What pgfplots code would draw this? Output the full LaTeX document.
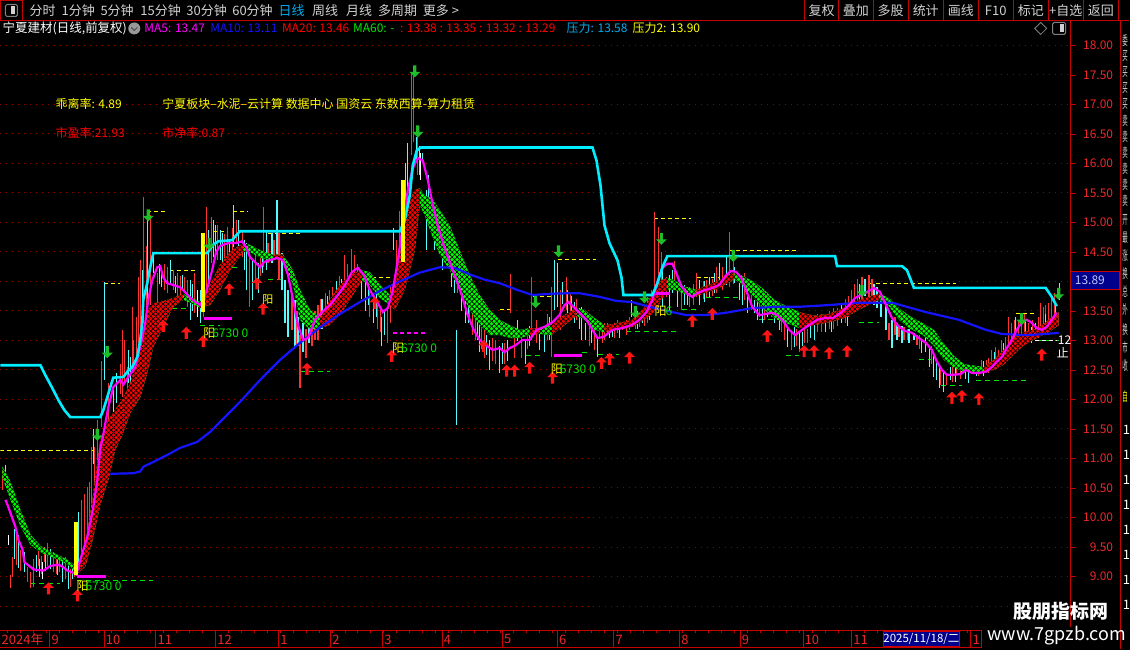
\documentclass[border=0pt]{standalone}
\usepackage{fontspec}
\setmainfont{Noto Sans CJK SC}
\usepackage{pgfplots}
\usepackage{pgfplotstable}
\pgfplotsset{compat=1.18}
\usepgfplotslibrary{fillbetween}
\usetikzlibrary{patterns,patterns.meta}
\tikzset{fill between/on layer=main}
\newcommand{\fs}[1]{\fontsize{#1pt}{#1pt}\selectfont}
\definecolor{cR}{RGB}{255,50,50}
\definecolor{cC}{RGB}{84,252,252}
\definecolor{mag}{RGB}{255,0,255}
\definecolor{bl}{RGB}{20,20,255}
\definecolor{rib}{RGB}{255,0,0}
\definecolor{ribg}{RGB}{0,255,0}
\definecolor{pc}{RGB}{0,238,255}
\definecolor{yl}{RGB}{255,255,0}
\definecolor{arR}{RGB}{255,20,20}
\definecolor{arG}{RGB}{30,190,40}
\definecolor{gridc}{RGB}{150,0,0}
\definecolor{axr}{RGB}{200,0,0}
\definecolor{lab}{RGB}{240,40,40}
\definecolor{menuc}{RGB}{210,210,210}
\definecolor{navy}{RGB}{0,0,140}
\definecolor{grn}{RGB}{0,230,0}
\pagecolor{black}

\pgfdeclareplotmark{uparr}{%
  \pgfpathmoveto{\pgfqpoint{0pt}{0pt}}%
  \pgfpathlineto{\pgfqpoint{5.5pt}{-5.5pt}}%
  \pgfpathlineto{\pgfqpoint{1.6pt}{-5.5pt}}%
  \pgfpathlineto{\pgfqpoint{1.6pt}{-12pt}}%
  \pgfpathlineto{\pgfqpoint{-1.6pt}{-12pt}}%
  \pgfpathlineto{\pgfqpoint{-1.6pt}{-5.5pt}}%
  \pgfpathlineto{\pgfqpoint{-5.5pt}{-5.5pt}}%
  \pgfpathclose\pgfusepathqfill}
\pgfdeclareplotmark{dnarr}{%
  \pgfpathmoveto{\pgfqpoint{0pt}{0pt}}%
  \pgfpathlineto{\pgfqpoint{5.5pt}{5.5pt}}%
  \pgfpathlineto{\pgfqpoint{1.6pt}{5.5pt}}%
  \pgfpathlineto{\pgfqpoint{1.6pt}{12pt}}%
  \pgfpathlineto{\pgfqpoint{-1.6pt}{12pt}}%
  \pgfpathlineto{\pgfqpoint{-1.6pt}{5.5pt}}%
  \pgfpathlineto{\pgfqpoint{-5.5pt}{5.5pt}}%
  \pgfpathclose\pgfusepathqfill}

\pgfplotstableread{
x l h
2 10.47 10.81
10 8.80 9.03
12 9.00 9.33
16 9.20 9.78
20 9.10 9.45
27 8.90 9.16
30 8.81 9.08
33 8.83 9.29
38 9.17 9.46
41 9.05 9.35
44 9.25 9.50
47 9.17 9.57
53 9.07 9.41
56 9.05 9.30
59 9.07 9.29
65 8.95 9.33
70 8.83 9.12
74 9.00 9.15
81 9.41 10.30
84 9.46 10.39
87 9.63 10.51
89 9.90 10.60
91 10.02 11.19
94 10.50 11.20
97 10.60 11.65
101 11.54 12.66
108 11.65 12.28
120 12.10 12.60
122 12.04 13.18
124 12.28 13.01
127 12.04 12.55
132 12.45 13.57
133 12.11 13.01
136 12.45 13.40
138 12.96 14.07
140 13.01 14.36
143 13.30 15.43
146 13.40 14.60
150 13.60 15.12
157 13.57 14.14
164 13.85 14.30
167 13.80 14.24
173 13.86 14.19
177 13.63 14.14
180 13.70 14.10
184 13.86 14.07
187 13.57 14.02
194 13.47 14.14
203 13.40 13.90
206 13.86 15.26
211 14.31 15.09
217 14.36 14.96
224 14.40 14.80
227 14.41 14.92
232 14.45 14.90
236 14.65 15.04
242 14.41 14.87
249 13.57 14.58
255 14.02 14.53
260 14.10 14.50
263 14.24 15.26
268 14.31 14.65
274 14.36 14.70
279 14.02 14.82
292 13.18 13.80
297 12.90 13.50
300 12.20 13.10
306 12.70 13.20
312 12.90 13.40
315 13.00 13.50
318 13.00 13.60
321 13.20 13.70
326 13.30 13.80
330 13.35 13.85
333 13.40 13.90
340 13.50 14.10
345 13.75 14.45
348 13.80 14.30
352 13.90 14.55
355 14.00 14.45
358 13.95 14.30
370 13.40 13.90
378 13.20 13.60
381 13.15 13.55
388 12.95 13.55
391 13.30 13.90
397 13.80 14.70
400 14.20 15.20
404 14.60 15.60
412 16.14 17.53
414 16.37 17.53
418 15.80 16.50
431 15.00 15.30
437 14.70 15.20
440 14.60 15.20
447 14.30 14.90
458 13.80 14.30
462 13.60 14.10
470 13.40 13.90
473 13.10 13.60
476 13.00 13.60
482 12.85 13.25
485 12.70 13.20
493 12.65 13.05
496 12.60 13.00
505 12.60 12.95
511 13.46 14.12
515 12.70 13.10
522 12.70 13.10
528 12.85 13.20
532 13.00 14.07
537 12.95 13.35
548 13.00 13.45
552 12.72 13.91
561 13.18 13.86
567 13.51 14.07
571 13.40 13.82
577 13.35 13.70
590 12.90 13.35
595 12.84 13.18
600 13.06 13.23
603 12.95 13.20
605 13.00 13.30
608 13.13 13.30
615 13.05 13.30
618 13.13 13.35
623 13.18 13.30
627 13.10 13.35
630 13.18 13.40
636 13.20 13.45
640 13.23 13.47
645 13.25 13.60
648 13.30 13.74
652 13.47 13.86
655 13.74 15.17
659 13.63 14.93
662 13.90 14.50
667 13.74 14.07
675 13.95 14.35
682 13.51 13.85
690 13.57 13.90
694 13.60 13.95
697 13.74 14.14
704 13.70 14.00
707 13.74 14.02
713 13.75 14.05
717 13.80 14.24
723 13.85 14.24
730 13.90 14.84
734 13.95 14.35
745 13.69 14.14
752 13.51 13.80
760 13.40 13.69
765 13.35 13.60
772 13.40 13.69
777 13.40 13.63
782 13.15 13.45
785 13.01 13.40
792 12.84 13.18
797 12.90 13.20
800 12.80 13.05
805 12.95 13.25
808 12.95 13.20
815 13.10 13.40
818 13.15 13.45
822 13.15 13.45
830 13.20 13.50
834 13.20 13.55
838 13.25 13.55
846 13.30 13.70
849 13.40 13.75
852 13.50 13.85
855 13.55 13.95
858 13.60 14.05
863 13.69 14.08
870 13.70 14.11
873 13.70 14.05
890 13.01 13.30
896 13.10 13.40
900 13.06 13.23
905 13.01 13.23
909 13.00 13.20
918 12.92 13.10
921 12.85 13.10
927 12.97 13.18
933 12.60 12.90
942 12.24 12.50
948 12.25 12.45
954 12.30 12.55
958 12.42 12.55
962 12.35 12.55
967 12.40 12.60
975 12.45 12.52
980 12.40 12.55
983 12.45 12.67
988 12.50 12.67
990 12.45 12.70
993 12.55 12.84
997 12.67 12.89
1000 12.55 12.84
1003 12.67 13.01
1007 12.79 13.06
1010 12.89 13.40
1013 13.01 13.30
1016 13.05 13.35
1020 13.06 13.35
1023 13.06 13.47
1026 13.10 13.45
1030 13.06 13.30
1034 13.10 13.35
1037 13.13 13.30
1040 13.05 13.40
1042 13.13 13.63
1045 13.23 13.57
1047 13.20 13.60
1050 13.23 13.63
1053 13.30 13.74
1056 13.35 13.80
}\candR

\pgfplotstableread{
x l h
5 10.56 10.89
14 9.30 9.80
18 9.14 9.71
24 9.07 9.41
36 9.07 9.37
39 9.00 9.30
45 9.10 9.40
50 9.12 9.46
57 9.03 9.37
62 8.90 9.29
68 8.78 9.20
72 8.95 9.15
78 9.07 10.10
93 10.90 11.50
104 12.33 13.99
113 11.77 12.21
116 11.94 12.45
128 12.28 12.84
130 12.21 12.72
142 13.40 14.20
147 13.62 15.04
153 14.14 14.41
159 13.95 14.30
161 13.90 14.14
170 13.94 14.36
175 13.80 14.10
182 13.85 14.11
190 13.35 14.02
192 13.50 13.95
200 13.30 13.86
208 13.94 14.87
213 14.41 15.04
215 14.40 14.95
220 14.36 14.87
222 14.19 14.82
229 14.31 14.70
233 14.58 15.29
238 14.41 15.04
244 14.20 14.70
246 13.85 14.65
252 13.69 14.36
258 13.80 14.31
262 14.15 14.45
266 14.19 14.87
272 14.31 14.82
277 14.41 15.38
282 13.85 14.48
285 13.30 14.02
288 13.06 13.85
295 12.89 13.69
298 12.90 13.40
303 12.80 13.30
309 12.95 13.40
322 13.20 13.70
328 13.30 13.75
337 13.45 14.00
342 13.55 14.05
362 13.70 14.20
366 13.50 14.00
369 13.60 14.05
374 13.30 13.70
377 13.40 13.80
382 12.90 13.40
385 13.10 13.50
394 14.53 14.91
406 15.09 16.00
408 15.38 16.34
417 16.05 16.44
420 15.80 16.30
423 16.05 16.17
427 14.53 15.55
429 15.00 15.80
435 14.53 14.92
443 14.20 15.00
446 14.30 14.80
452 13.90 14.60
455 13.80 14.40
457 11.57 13.18
462 13.50 13.90
466 13.30 13.90
469 13.30 13.70
478 13.00 13.40
480 12.80 13.40
487 12.75 13.10
490 12.50 13.00
500 12.45 12.90
503 12.60 12.95
508 12.65 13.00
518 12.99 13.35
526 12.60 13.00
530 12.90 13.25
540 12.84 13.18
545 12.80 13.18
550 13.00 13.40
555 13.51 14.36
558 13.56 14.31
563 13.62 13.99
568 13.40 13.86
572 13.40 13.75
575 13.30 13.65
580 13.20 13.55
582 13.01 13.57
586 13.01 13.30
592 12.95 13.30
598 12.72 13.06
610 13.05 13.25
613 13.06 13.23
620 13.05 13.30
632 13.40 13.69
638 13.20 13.50
643 13.30 13.47
650 13.35 13.70
663 13.56 14.24
670 13.51 14.11
673 13.80 14.20
678 13.56 13.90
685 13.60 13.94
688 13.60 13.90
700 13.60 14.02
705 13.65 14.00
710 13.74 14.07
715 13.80 14.15
720 13.90 14.31
727 13.94 14.41
735 13.98 14.24
740 13.69 14.07
743 13.60 14.00
748 13.47 13.90
755 13.47 13.69
758 13.35 13.65
763 13.30 13.56
768 13.40 13.69
775 13.30 13.55
780 13.18 13.56
788 12.89 13.23
795 12.89 13.23
800 12.85 13.15
803 12.90 13.15
811 13.05 13.30
815 13.00 13.30
826 13.15 13.40
832 13.15 13.45
842 13.30 13.60
848 13.25 13.60
860 13.55 13.95
866 13.75 14.05
875 13.60 13.95
878 13.55 13.90
882 13.40 13.80
887 13.18 13.69
893 12.87 13.35
898 13.00 13.30
903 12.95 13.25
910 12.95 13.20
915 13.01 13.13
923 12.79 13.01
927 12.80 13.10
931 12.55 12.89
935 12.38 12.79
938 12.33 12.62
941 12.20 12.55
945 12.13 12.50
952 12.33 12.55
957 12.30 12.55
963 12.45 12.62
967 12.35 12.60
970 12.28 12.55
978 12.40 12.55
985 12.40 12.65
996 12.55 12.80
1005 12.65 12.95
1017 13.13 13.40
1027 12.96 13.35
1033 12.96 13.23
1037 13.05 13.30
1047 13.15 13.45
1057 13.35 13.63
1061 13.69 13.98
}\candC

\pgfplotstableread{
x l h
8 9.54 9.71
42 8.95 9.25
197 13.40 13.86
421 15.72 16.17
}\candW

\pgfplotstableread{
x a b
2 10.86 10.67
10 10.61 10.30
20 10.13 9.85
30 9.71 9.54
40 9.52 9.41
50 9.42 9.34
60 9.35 9.27
70 9.25 9.17
77 9.15 9.05
85 9.54 9.17
92 10.30 9.60
100 11.32 10.22
108 11.65 10.64
115 11.83 11.15
122 11.99 11.40
130 12.28 11.77
140 12.84 12.04
147 13.52 12.45
153 13.63 12.89
160 13.65 13.13
173 13.72 13.57
183 13.79 13.69
190 13.74 13.64
200 13.65 13.55
210 13.94 13.60
220 14.28 13.86
230 14.50 14.19
243 14.65 14.50
250 14.62 14.50
260 14.53 14.40
273 14.45 14.36
283 14.46 14.38
293 14.19 13.94
300 13.86 13.35
310 13.52 13.18
320 13.38 13.21
330 13.69 13.26
340 13.94 13.43
350 14.11 13.69
362 14.19 14.02
370 14.16 13.94
380 13.94 13.72
390 13.77 13.60
395 14.02 13.52
400 14.45 13.69
405 14.95 13.86
410 15.38 14.19
415 15.55 14.53
420 15.58 15.29
425 15.46 15.12
432 15.41 14.79
440 15.21 14.45
450 14.95 14.19
460 14.53 13.86
470 14.11 13.52
480 13.77 13.26
490 13.52 13.09
500 13.35 13.09
510 13.26 13.04
520 13.18 13.04
530 13.21 13.09
540 13.21 13.11
552 13.30 13.09
565 13.43 13.26
577 13.55 13.42
585 13.52 13.35
595 13.38 13.18
605 13.26 13.14
615 13.28 13.18
633 13.35 13.23
647 13.60 13.38
655 13.86 13.48
662 14.02 13.69
668 14.06 13.86
675 14.02 13.86
685 13.91 13.79
697 13.86 13.75
705 13.91 13.80
720 14.02 13.89
735 14.16 14.04
745 14.08 13.92
755 13.99 13.72
765 13.86 13.52
775 13.69 13.38
785 13.60 13.31
800 13.48 13.21
815 13.42 13.26
830 13.45 13.31
845 13.55 13.38
860 13.69 13.52
880 13.79 13.69
890 13.72 13.58
900 13.55 13.35
910 13.42 13.21
925 13.28 13.08
935 13.18 12.91
945 12.94 12.67
955 12.74 12.54
965 12.60 12.47
985 12.55 12.47
995 12.67 12.50
1005 12.84 12.59
1015 13.04 12.76
1025 13.14 12.92
1040 13.21 13.06
1050 13.35 13.14
1060 13.48 13.26
}\ribbon

\pgfplotstableread{
x p
5 10.30
8 10.17
15 9.84
18 9.62
22 9.46
24 9.24
28 9.19
33 9.12
43 9.10
50 9.18
58 9.20
62 9.17
67 9.10
72 9.07
76 9.03
80 9.29
87 9.67
93 10.18
97 10.64
100 11.18
102 11.32
108 11.87
113 12.21
120 12.33
123 12.25
128 12.38
135 12.55
140 12.89
145 13.30
148 13.69
152 14.02
157 14.24
160 14.26
163 14.07
167 13.97
173 13.94
180 13.90
186 13.80
192 13.69
200 13.60
204 13.72
208 13.94
212 14.19
216 14.50
220 14.60
228 14.65
236 14.65
242 14.68
246 14.58
250 14.41
256 14.31
260 14.24
264 14.33
270 14.36
277 14.40
283 14.36
288 14.11
293 13.69
298 13.26
303 13.01
308 13.04
315 13.35
322 13.48
330 13.60
338 13.77
345 13.94
352 14.16
358 14.23
364 14.11
370 13.85
376 13.69
383 13.48
388 13.55
393 13.85
398 14.36
403 14.95
408 15.55
413 15.92
418 16.09
423 16.05
428 15.72
433 15.30
438 14.95
444 14.61
450 14.33
456 14.06
462 13.77
468 13.43
474 13.18
480 13.01
486 12.92
493 12.84
500 12.87
505 12.80
510 12.87
516 12.92
523 13.01
530 13.01
537 13.18
545 13.23
553 13.31
560 13.43
565 13.60
569 13.65
574 13.57
580 13.47
587 13.35
593 13.18
598 13.04
604 13.06
613 13.18
623 13.21
632 13.26
640 13.35
647 13.48
653 13.69
658 13.99
663 14.23
668 14.30
673 14.30
677 14.14
682 13.92
688 13.79
693 13.74
698 13.80
705 13.85
713 13.89
720 13.94
727 14.11
732 14.18
737 14.16
742 14.06
748 13.80
753 13.57
760 13.43
767 13.45
773 13.47
778 13.43
784 13.33
790 13.18
796 13.09
803 13.18
810 13.26
818 13.35
826 13.38
834 13.38
842 13.47
850 13.60
856 13.72
862 13.77
868 13.82
875 13.89
881 13.82
887 13.60
893 13.38
899 13.25
906 13.16
913 13.13
920 13.04
927 12.96
933 12.84
938 12.64
943 12.50
948 12.42
955 12.42
962 12.43
967 12.50
973 12.45
980 12.45
987 12.47
993 12.55
998 12.64
1003 12.72
1008 12.87
1013 13.01
1018 13.18
1023 13.31
1028 13.35
1033 13.30
1038 13.21
1043 13.18
1048 13.23
1053 13.35
1058 13.47
}\maF

\pgfplotstableread{
x p
110 10.74
133 10.75
140 10.78
143 10.86
153 10.94
167 11.06
180 11.18
197 11.28
210 11.45
220 11.62
240 11.96
260 12.33
280 12.67
300 12.96
320 13.22
340 13.45
360 13.65
380 13.84
400 14.00
420 14.15
440 14.24
455 14.23
470 14.12
485 14.03
500 13.97
517 13.86
533 13.77
550 13.79
567 13.80
580 13.80
600 13.74
617 13.67
633 13.65
650 13.57
673 13.48
687 13.43
707 13.43
727 13.47
753 13.55
780 13.57
800 13.57
830 13.60
860 13.64
893 13.64
927 13.48
960 13.35
987 13.18
1003 13.11
1027 13.09
1047 13.11
1060 13.13
}\maS

\pgfplotstableread{
x p
0 12.58
40 12.58
45 12.41
52 12.19
58 11.99
64 11.82
70 11.70
100 11.70
103 11.82
107 12.04
110 12.21
113 12.37
123 12.38
127 12.47
132 12.55
137 12.72
140 13.01
142 13.30
143 13.69
147 13.97
150 14.24
153 14.48
207 14.48
213 14.62
218 14.68
232 14.70
237 14.80
240 14.85
400 14.85
405 15.04
410 15.46
413 15.97
417 16.22
421 16.27
593 16.27
597 16.05
601 15.63
605 14.95
610 14.65
618 14.36
622 14.07
624 13.77
653 13.77
658 13.97
663 14.24
668 14.43
836 14.43
838 14.26
903 14.26
908 14.19
912 14.02
915 13.89
1047 13.89
1053 13.74
1058 13.58
}\press

\begin{document}
\begin{tikzpicture}
\path (0,0) rectangle (1130pt,650pt);
\begin{axis}[
  at={(0pt,22pt)}, anchor=south west,
  width=1072pt, height=591pt, scale only axis,
  xmin=0, xmax=1072, ymin=8.137, ymax=18.135,
  axis x line=none, axis y line*=right,
  y axis line style={draw=axr, line width=1pt},
  ytick={9,9.5,...,13.5,14.5,15,...,18}, minor y tick num=1,
  extra y ticks={8.5,14}, extra y tick labels={},
  extra y tick style={grid=major},
  tick style={draw=axr, line width=0.8pt},
  tick align=outside, major tick length=5pt, minor tick length=3pt,
  /pgf/number format/assume math mode=true,
  yticklabel={\pgfmathprintnumber[fixed,fixed zerofill,precision=2]{\tick}},
  yticklabel style={text=lab, font=\fs{12}, anchor=east, xshift=41pt},
  ymajorgrids, major grid style={draw=gridc, line width=1pt, dash pattern=on 1pt off 5pt},
]
\addplot[yl, line width=1pt, dash pattern=on 4pt off 3pt, unbounded coords=jump] coordinates {
(0,11.13) (95,11.13) (96,nan) (104,13.97) (120,13.97) (121,nan)
(147,15.18) (165,15.18) (166,nan) (170,14.19) (197,14.19) (198,nan)
(213,14.85) (228,14.85) (229,nan) (233,15.19) (248,15.19) (249,nan)
(268,14.82) (300,14.82) (301,nan) (365,14.07) (392,14.07) (393,nan)
(500,13.53) (512,13.53) (513,nan) (533,13.74) (553,13.74) (554,nan)
(558,14.38) (597,14.38) (598,nan) (655,15.06) (692,15.06) (693,nan)
(698,14.06) (720,14.06) (721,nan) (730,14.52) (800,14.52) (801,nan)
(870,13.96) (957,13.96) (958,nan) (1017,13.45) (1037,13.45)};
\addplot[grn, line width=1pt, dash pattern=on 5pt off 4pt, unbounded coords=jump] coordinates {
(30,8.88) (60,8.88) (61,nan) (77,8.93) (153,8.93) (154,nan)
(163,13.55) (190,13.55) (191,nan) (200,13.25) (220,13.25) (221,nan)
(223,14.24) (240,14.24) (241,nan) (268,14.04) (282,14.04) (283,nan)
(300,12.47) (330,12.47) (331,nan) (526,12.74) (540,12.74) (541,nan)
(582,12.79) (590,12.79) (591,nan) (599,12.77) (620,12.77) (621,nan)
(627,13.16) (677,13.16) (678,nan) (683,13.53) (700,13.53) (701,nan)
(707,13.72) (743,13.72) (744,nan) (760,13.36) (780,13.36) (781,nan)
(787,12.74) (800,12.74) (801,nan) (860,13.31) (880,13.31) (881,nan)
(920,12.67) (933,12.67) (934,nan) (942,12.23) (963,12.23) (964,nan)
(977,12.33) (1027,12.33) (1028,nan) (1038,13.00) (1060,13.00)};
\addplot[cR, line width=1.1pt, quiver={u=0,v=\thisrow{h}-\thisrow{l}}] table[x=x,y=l] {\candR};
\addplot[cC, line width=1.1pt, quiver={u=0,v=\thisrow{h}-\thisrow{l}}] table[x=x,y=l] {\candC};
\addplot[white, line width=1.1pt, quiver={u=0,v=\thisrow{h}-\thisrow{l}}] table[x=x,y=l] {\candW};
\addplot[draw=none, name path=ra] table[x=x,y=a] {\ribbon};
\addplot[draw=none, name path=rb] table[x=x,y=b] {\ribbon};
\addplot[fill=ribg] fill between[of=ra and rb];
\addplot[fill=rib] fill between[of=ra and rb, soft clip={domain=77:183}];
\addplot[fill=rib] fill between[of=ra and rb, soft clip={domain=200:243}];
\addplot[fill=rib] fill between[of=ra and rb, soft clip={domain=273:283}];
\addplot[fill=rib] fill between[of=ra and rb, soft clip={domain=320:362}];
\addplot[fill=rib] fill between[of=ra and rb, soft clip={domain=390:420}];
\addplot[fill=rib] fill between[of=ra and rb, soft clip={domain=530:540}];
\addplot[fill=rib] fill between[of=ra and rb, soft clip={domain=552:577}];
\addplot[fill=rib] fill between[of=ra and rb, soft clip={domain=605:668}];
\addplot[fill=rib] fill between[of=ra and rb, soft clip={domain=697:735}];
\addplot[fill=rib] fill between[of=ra and rb, soft clip={domain=800:880}];
\addplot[fill=rib] fill between[of=ra and rb, soft clip={domain=985:1060}];
\addplot[pattern={Lines[angle=45,distance=3.5pt,line width=0.7pt]}, pattern color=black] fill between[of=ra and rb];
\addplot[pattern={Lines[angle=-45,distance=3.5pt,line width=0.7pt]}, pattern color=black] fill between[of=ra and rb];
\addplot[bl, line width=2.2pt] table[x=x,y=p] {\maS};
\addplot[mag, line width=2.2pt] table[x=x,y=p] {\maF};
\addplot[pc, line width=2.6pt] table[x=x,y=p] {\press};
\addplot[mag, line width=3pt, unbounded coords=jump] coordinates {
(77,9.00) (106,9.00) (107,nan) (204,13.38) (232,13.38) (233,nan)
(554,12.74) (582,12.74) (583,nan) (657,13.79) (671,13.79)};
\addplot[mag, line width=2pt, dash pattern=on 4pt off 3pt] coordinates {(393,13.13) (425,13.13)};
\addplot[yl, line width=4pt, unbounded coords=jump] coordinates {
(76,9.03) (76,9.92) (77,nan) (203,13.48) (203,14.82) (204,nan) (403,14.33) (403,15.72)};
\addplot[only marks, mark=uparr, color=arR] coordinates {
(48,8.90) (77,8.78) (163,13.35) (186,13.23) (203,13.09) (229,13.97) (257,14.07)
(263,13.64) (307,12.62) (375,13.74) (392,12.84) (484,13.01) (507,12.59) (515,12.59)
(530,12.64) (553,12.47) (602,12.72) (610,12.79) (630,12.81) (693,13.43) (713,13.55)
(768,13.18) (805,12.92) (815,12.92) (830,12.89) (848,12.92) (953,12.13) (963,12.16)
(980,12.11) (1043,12.86)};
\addplot[only marks, mark=dnarr, color=arG] coordinates {
(97,11.30) (107,12.70) (148,15.02) (209,14.53) (415,17.46) (418,16.44) (536,13.55)
(559,14.41) (636,13.38) (645,13.63) (662,14.62) (734,14.33) (863,13.74) (1023,13.26)
(1060,13.69)};
\end{axis}

\begin{scope}[x=1pt,y=-1pt,shift={(0pt,650pt)}]
\draw[axr, line width=1pt] (0,20) -- (1130,20);
\draw[axr, line width=1pt] (0.5,0.5) rectangle (22,20);
\draw[gray, line width=1pt, rounded corners=1.5pt] (5,4) rectangle (17,16);
\fill[menuc] (11,6) rectangle (15,14);
\foreach \xx/\tt in {29/分时, 61/1分钟, 100/5分钟, 140/15分钟, 186/30分钟, 232/60分钟, 312/周线, 346/月线, 378/多周期, 423/更多 >}
  \node[anchor=west, inner sep=0, text=menuc, font=\fs{13}] at (\xx,10) {\tt};
\node[anchor=west, inner sep=0, text=cyan, font=\fs{13}] at (278.5,10) {日线};
\foreach \xx in {805.7,839.6,874.2,909.1,944.5,979.4,1014.4,1049.7,1084.6,1120}
  \draw[axr, line width=1pt] (\xx,0) -- (\xx,20);
\foreach \xx/\tt in {822.6/复权, 856.9/叠加, 891.6/多股, 926.8/统计, 962/画线, 996.9/F10, 1032/标记, 1067.1/+自选, 1102.3/返回}
  \node[inner sep=0, text=menuc, font=\fs{13}] at (\xx,10) {\tt};
\node[anchor=west, inner sep=0, text=white, font=\fs{12.5}] at (2,28) {宁夏建材(日线,前复权)};
\fill[gray!80] (134,28) circle (6);
\draw[black!70, line width=1pt] (131,27) -- (134,30) -- (137,27);
\node[anchor=west, inner sep=0, text=mag, font=\fs{12}] at (144,28) {MA5: 13.47};
\node[anchor=west, inner sep=0, text=bl, font=\fs{12}] at (210,28) {MA10: 13.11};
\node[anchor=west, inner sep=0, text=red, font=\fs{12}] at (282,28) {MA20: 13.46};
\node[anchor=west, inner sep=0, text=grn, font=\fs{12}] at (353,28) {MA60: -};
\node[anchor=west, inner sep=0, text=red, font=\fs{12}] at (400,28) {: 13.38 : 13.35 : 13.32 : 13.29};
\node[anchor=west, inner sep=0, text=cyan, font=\fs{12}] at (567,28) {压力: 13.58};
\node[anchor=west, inner sep=0, text=yl, font=\fs{12}] at (633,28) {压力2: 13.90};
\draw[gray, line width=0.8pt] (1042,22) -- (1048,28) -- (1042,34) -- (1036,28) -- cycle;
\draw[gray, line width=1pt, rounded corners=1.5pt] (1054,22) rectangle (1067,34);
\fill[menuc] (1061,24) rectangle (1065,32);
\draw[axr, line width=1pt] (1072,20) -- (1072,37);
\draw[axr, line width=1pt] (1122,20) -- (1122,650);
\node[anchor=west, inner sep=0, text=yl, font=\fs{12}] at (55,104) {乖离率: 4.89};
\node[anchor=west, inner sep=0, text=yl, font=\fs{12}] at (162,104) {宁夏板块--水泥--云计算 数据中心 国资云 东数西算-算力租赁};
\node[anchor=west, inner sep=0, text=red, font=\fs{12}] at (55,133) {市盈率:21.93};
\node[anchor=west, inner sep=0, text=red, font=\fs{12}] at (162,133) {市净率:0.87};
\foreach \xx/\yy in {76/587, 203/333, 392/348, 551/369}{
  \node[anchor=west, inner sep=0, text=yl, font=\fs{12}] at (\xx,\yy) {阳};
  \node[anchor=west, inner sep=0, text=grn, font=\fs{12}] at (\xx+9,\yy) {6730 0};
}
\node[anchor=west, inner sep=0, text=yl, font=\fs{12}] at (655,311) {阳};
\node[anchor=west, inner sep=0, text=grn, font=\fs{12}] at (666,311) {6};
\node[anchor=west, inner sep=0, text=yl, font=\fs{11}] at (262,300) {阳};
\draw[white, line width=1pt, dash pattern=on 4pt off 3pt] (1036,341) -- (1058,341);
\node[anchor=west, inner sep=0, text=white, font=\fs{12}] at (1059,340) {12};
\node[anchor=west, inner sep=0, text=white, font=\fs{12}] at (1058,353) {止};
\fill[navy] (1072,271) rectangle (1121,289);
\draw[axr, line width=0.8pt] (1072,271) rectangle (1121,289);
\node[anchor=west, inner sep=0, text={rgb,255:red,190;green,200;blue,255}, font=\fs{12}] at (1076,280) {13.89};
\foreach \yy/\tt in {40/委, 56/买, 72/买, 88/买, 104/买, 120/卖, 136/卖, 152/卖, 168/卖, 184/卖, 200/卖, 220/开, 238/最, 256/涨, 274/换, 292/总, 310/外, 330/换, 348/市, 366/收}
  \node[anchor=west, inner sep=0, text=menuc, font=\fs{13}] at (1123.5,\yy) {\scalebox{0.42}[1]{\tt}};
\node[anchor=west, inner sep=0, text=yl, font=\fs{13}] at (1123.5,397) {\scalebox{0.42}[1]{自}};
\foreach \yy in {430,455,480,505,530,555,580,605}
  \node[anchor=west, inner sep=0, text=white, font=\fs{13}] at (1124,\yy) {1};
\draw[axr, line width=1pt] (0,631) -- (983,631);
\draw[axr, line width=1pt] (0,648) -- (983,648);
\foreach \xx in {7,20,...,980} \draw[axr, line width=0.8pt] (\xx,631) -- (\xx,634);
\node[anchor=west, inner sep=0, text=lab, font=\fs{13}] at (1,640) {2024年};
\foreach \xx/\tt in {49.4/9, 103.8/10, 155.7/11, 215.5/12, 278.6/1, 330.8/2, 382.7/3, 442.5/4, 502.7/5, 557.8/6, 614.4/7, 680.3/8, 740.9/9, 803.9/10, 852.6/11, 972/1}{
  \draw[axr, line width=1pt] (\xx,631) -- (\xx,648);
  \node[anchor=west, inner sep=0, text=lab, font=\fs{13}] at (\xx+1.5,640) {\tt};
}
\draw[axr, line width=1pt] (983,631) -- (983,648);
\fill[navy] (884,632) rectangle (961,647);
\draw[axr, line width=0.8pt] (884,632) rectangle (961,647);
\node[inner sep=0, text=white, font=\fs{11.5}] at (922.5,640) {2025/11/18/二};
\node[inner sep=0, text=white, font=\fs{19}\bfseries] at (1062,612) {股朋指标网};
\node[inner sep=0, text=white, font=\fs{18}] at (1058,636) {www.7gpzb.com};
\end{scope}
\end{tikzpicture}
\end{document}
